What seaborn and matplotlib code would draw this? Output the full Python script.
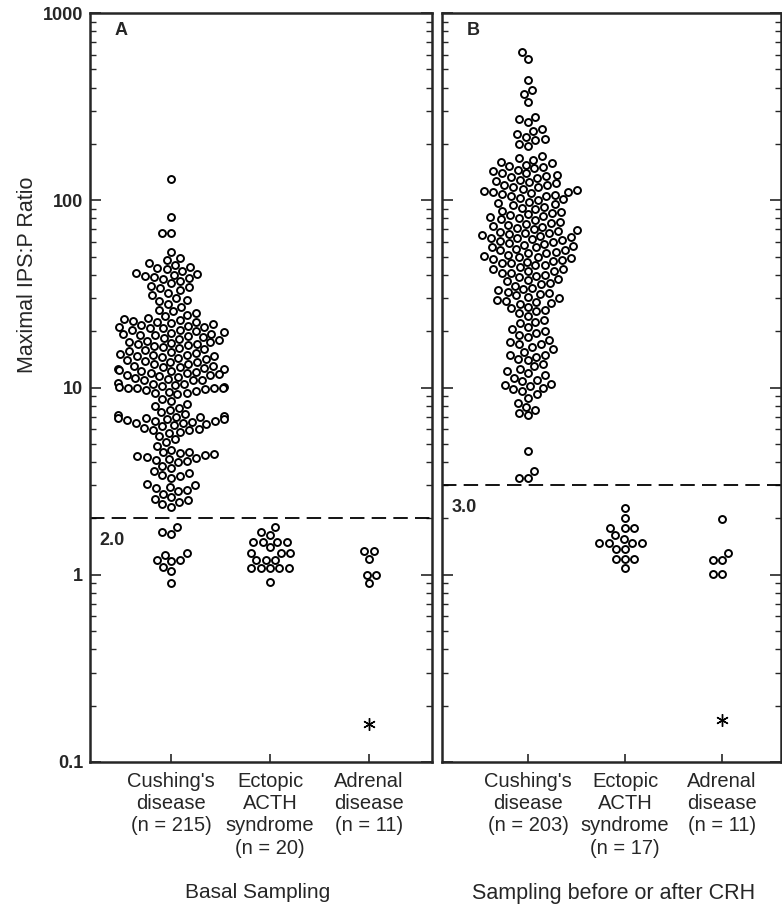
import numpy as np
import pandas as pd
import matplotlib
matplotlib.use("Agg")
import matplotlib.pyplot as plt
from matplotlib.ticker import LogLocator, NullFormatter, FixedLocator, FixedFormatter
import seaborn as sns

sns.set_style("ticks")
plt.rcParams['font.family'] = ['Liberation Sans', 'DejaVu Sans']

# ---- data (IPS:P ratios) ----
cushing_basal = [
    130, 81, 67, 67, 53, 49, 48,
    46, 45, 44,
    43.5, 43, 42, 41, 40.5, 40, 39.5, 39, 38.5, 38, 37, 36, 35, 34.5, 34,
    33, 32, 31, 30, 29.5, 29, 28, 27, 26, 25.5, 25, 24.5, 24,
    23.4, 23.2, 23, 22.7, 22.5, 22.3, 22, 21.8, 21.6, 21.3,
    21.1, 20.9, 20.7, 20.4, 20.2, 20, 19.8, 19.6, 19.4, 19.2,
    19, 18.8, 18.6, 18.4, 18.2, 18, 17.8, 17.6, 17.4, 17.2,
    17, 16.8, 16.6, 16.4, 16.2, 16, 15.8, 15.6, 15.4, 15.2,
    15, 14.9, 14.7, 14.5, 14.4, 14.2, 14, 13.9, 13.7, 13.6,
    13.4, 13.3, 13.1, 13, 12.9, 12.8, 12.7, 12.6, 12.5, 12.4,
    12.3, 14.8, 15.1, 17.1, 19.1, 21,
    12.2, 12.1, 12, 11.9, 11.8, 11.7, 11.6, 11.5, 11.4, 11.2, 11.1, 11, 10.95, 10.9,
    10.6, 10.5, 10.4, 10.3, 10.2, 10.1, 10.05, 10, 10, 9.95, 9.9, 9.8, 9.7, 9.6, 9.5, 9.4, 9.3, 9.2,
    8.7, 8.5, 8.2, 8, 7.8, 7.6, 7.4,
    7.2, 7.1, 7.05, 7, 6.95, 6.9, 6.85, 6.8, 6.75, 6.7, 6.65, 6.6, 6.55, 6.5, 6.45, 6.4, 6.3,
    6.2, 6.1, 6, 5.95, 5.9, 5.8, 5.75,
    5.5, 5.3, 5.1, 4.9,
    4.65, 4.55, 4.5, 4.45, 4.4, 4.35, 4.3, 4.25, 4.2, 4.15, 4.1, 4.05, 4,
    3.8, 3.7, 3.6, 3.5, 3.4, 3.35, 3.3,
    3.05, 3, 2.95, 2.9, 2.85, 2.8, 2.7, 2.6, 2.55, 2.5, 2.45, 2.4, 2.3,
    1.8, 1.7, 1.65, 1.3, 1.28, 1.2, 1.2, 1.18, 1.1, 1.05, 0.9,
]
ectopic_basal = [1.8, 1.69, 1.64, 1.5, 1.5, 1.5, 1.5, 1.4, 1.31, 1.31, 1.31,
                 1.2, 1.2, 1.2, 1.09, 1.09, 1.09, 1.09, 1.09, 0.92]
adrenal_basal = [1.34, 1.34, 1.22, 1.0, 1.0, 0.9]
adrenal_basal_star = [0.16]

cushing_crh = [
    620, 570, 440, 390, 370, 335,
    280, 270, 262,
    240, 235, 225, 218, 212, 210,
    200, 196,
    172, 168, 165, 160, 158, 155, 152, 150, 148, 145, 143, 140,
    139, 137, 135, 133, 131, 129, 127, 125, 123, 121, 120, 118,
    117, 115, 114, 112, 111, 110, 109, 108, 107, 106, 105,
    103, 101, 100, 98, 97, 95, 94, 92, 91, 90, 88, 87, 86, 84, 83,
    82, 81, 80, 79, 78, 77, 76, 75, 74, 73, 72,
    71, 70, 69.5, 68.5, 68, 67, 66.5, 66, 65, 64.5, 64, 63, 62.5, 62, 61,
    60.5, 60, 59, 58.5, 58, 57, 56.5, 56, 55, 54.5, 54, 53, 52.5, 52, 51,
    50.5, 50, 49.5, 49, 48.5, 48, 47.5, 47, 46.5, 46,
    45, 45, 44, 43, 43, 42, 42, 41, 41, 40,
    39.5, 39, 38, 37.5, 37, 36, 35.5, 35, 34, 33.5, 33, 32.5, 32, 31.5, 31,
    30.5, 30, 29.5, 29, 28.5, 28, 28.2,
    27, 26.5, 26, 25.5, 25,
    24, 23, 22.5, 22, 21, 20.5, 20, 19.5, 19, 18.5, 18, 17.5, 17, 17, 16.5, 16, 15.5, 15, 15, 14.5, 14.2, 14,
    13.4, 13, 12.6, 12.2, 12, 11.6, 11.3, 11, 10.8,
    10.5, 10.3, 10.2, 10, 9.8, 9.6,
    9.2, 8.8, 8.3,
    7.9, 7.6, 7.3, 7.1,
    4.6,
    3.6, 3.3, 3.3,
]
ectopic_crh = [2.28, 2.02, 1.78, 1.78, 1.78, 1.63, 1.55, 1.48, 1.48, 1.48, 1.48,
               1.38, 1.38, 1.22, 1.22, 1.22, 1.09]
adrenal_crh = [1.99, 1.31, 1.2, 1.2, 1.01, 1.01]
adrenal_crh_star = [0.168]

groups_basal = ["Cushing's\ndisease\n(n = 215)", "Ectopic\nACTH\nsyndrome\n(n = 20)",
                "Adrenal\ndisease\n(n = 11)"]
groups_crh = ["Cushing's\ndisease\n(n = 203)", "Ectopic\nACTH\nsyndrome\n(n = 17)",
              "Adrenal\ndisease\n(n = 11)"]
cutoffs = [2.0, 3.0]
cutoff_labels = ["2.0", "3.0"]
panel_letters = ["A", "B"]
panel_titles = ["Basal Sampling", "Sampling before or after CRH"]
y_ticks = [0.1, 1, 10, 100, 1000]
y_tick_labels = ["0.1", "1", "10", "100", "1000"]

W, H = 782, 908
fig = plt.figure(figsize=(W / 100, H / 100), dpi=100)
axA = fig.add_axes([90 / W, 1 - 762 / H, 342 / W, 749 / H])
axB = fig.add_axes([442 / W, 1 - 762 / H, 339 / W, 749 / H])

# groups sit 0.75 x-units apart; each swarm may spread over 0.8 units
step = 0.75

panels = [
    (axA, groups_basal, [cushing_basal, ectopic_basal, adrenal_basal], adrenal_basal_star, (-0.614, 1.977)),
    (axB, groups_crh, [cushing_crh, ectopic_crh, adrenal_crh], adrenal_crh_star, (-0.665, 1.956)),
]

for i, (ax, order, vals, star, xlim) in enumerate(panels):
    ax.set_yscale("log")
    positions = [k * step for k in range(len(order))]
    for pos, v in zip(positions, vals):
        df = pd.DataFrame({"pos": [pos] * len(v), "ratio": v})
        sns.swarmplot(data=df, x="pos", y="ratio", native_scale=True, orient="x",
                      ax=ax, size=5.0, color="white", edgecolor="black",
                      linewidth=1.4, warn_thresh=1.0)
    ax.set_yscale("log")
    ax.set_ylim(0.1, 1000)
    ax.set_xlim(*xlim)

    # asterisk for the adrenal patient far below the cut-off
    ax.plot([positions[2]] * len(star), star, ls="none",
            marker=(6, 2, 0), ms=9, mew=1.0, color="black")

    ax.axhline(cutoffs[i], color="black", lw=1.3, ls=(0, (8, 4)))
    ax.annotate(cutoff_labels[i], xy=(0.028, cutoffs[i]),
                xycoords=ax.get_yaxis_transform(), xytext=(0, -16),
                textcoords="offset points", ha="left", va="center",
                fontsize=13, fontweight="bold")
    ax.text(0.072, 0.977, panel_letters[i], transform=ax.transAxes,
            ha="left", va="center", fontsize=13, fontweight="bold")

    ax.set_xticks(positions, order)
    ax.yaxis.set_major_locator(FixedLocator(y_ticks))
    ax.yaxis.set_major_formatter(FixedFormatter(y_tick_labels))
    ax.yaxis.set_minor_locator(LogLocator(base=10, subs=np.arange(2, 10)))
    ax.yaxis.set_minor_formatter(NullFormatter())
    ax.xaxis.set_minor_locator(FixedLocator([]))
    ax.tick_params(axis="y", which="both", direction="in", left=True, right=True,
                   labelleft=(i == 0), labelsize=13, pad=5)
    ax.tick_params(axis="y", which="major", length=8, width=1.2)
    ax.tick_params(axis="y", which="minor", length=4, width=1.0)
    ax.tick_params(axis="x", direction="in", length=6, width=1.2, pad=7,
                   labelsize=14.5)
    for lab in ax.get_yticklabels():
        lab.set_fontweight("bold")
    for lab in ax.get_xticklabels():
        lab.set_linespacing(1.22)
    ax.set_xlabel("")
    ax.set_ylabel("")
    for sp in ax.spines.values():
        sp.set_linewidth(1.8)
        sp.set_visible(True)

fig.text(28 / W, 1 - 275 / H, "Maximal IPS:P Ratio", rotation=90,
         ha="center", va="center", fontsize=15.5)
fig.text(258 / W, 1 - 893 / H, panel_titles[0], ha="center", va="center", fontsize=15)
fig.text(614 / W, 1 - 893 / H, panel_titles[1], ha="center", va="center", fontsize=15.5)

fig.savefig("out.png", dpi=100)
